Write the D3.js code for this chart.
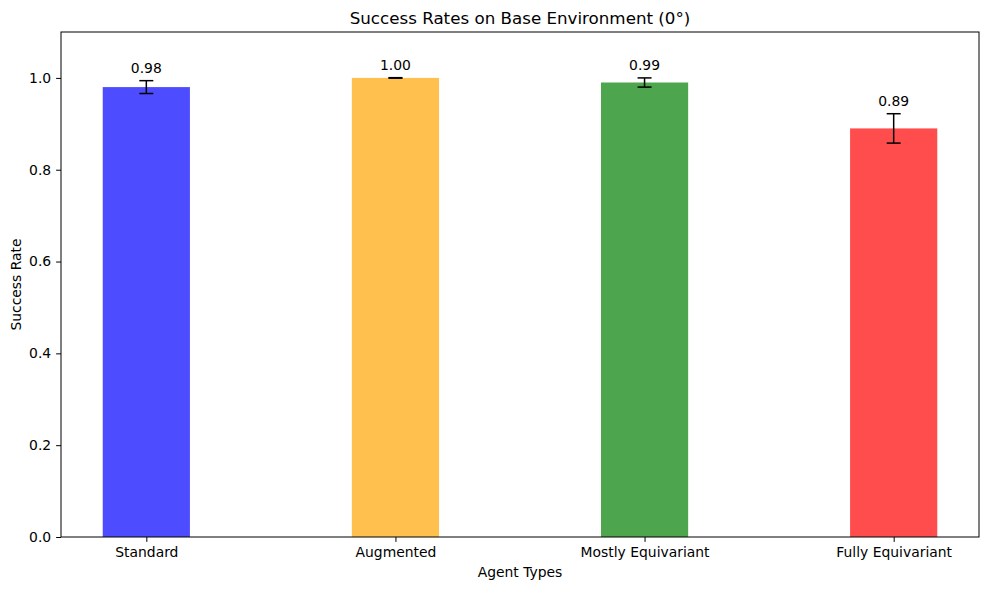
<!DOCTYPE html>
<html>
<head>
<meta charset="utf-8">
<script src="https://cdn.jsdelivr.net/npm/d3@7"></script>
<style>
  body { margin: 0; background: #fff; }
  text { font-family: "DejaVu Sans", sans-serif; fill: #000; }
</style>
</head>
<body>
<div id="chart"></div>
<script>
// data
var agents = ['Standard', 'Augmented', 'Mostly Equivariant', 'Fully Equivariant'];
var rates = [0.98, 1.00, 0.99, 0.89];
var errs = [0.014, 0.0005, 0.01, 0.032];
var colors = ['#4d4dff', '#ffc04d', '#4da64d', '#ff4d4d'];
var yTicks = [0, 0.2, 0.4, 0.6, 0.8, 1.0];

var width = 989, height = 590;
var area = { left: 61, top: 32, right: 979, bottom: 537 };

var svg = d3.select('#chart').append('svg')
  .attr('width', width)
  .attr('height', height);

// matplotlib-like x scale: index -> px, bar width 0.35
var x = d3.scaleLinear()
  .domain([-0.3425, agents.length - 1 + 0.3425])
  .range([area.left, area.right]);
var barW = 0.35;

var y = d3.scaleLinear()
  .domain([0, 1.1])
  .range([area.bottom, area.top]);

// bars
svg.append('g').selectAll('rect')
  .data(rates)
  .enter().append('rect')
    .attr('x', function(d, i) { return x(i - barW / 2); })
    .attr('width', function() { return x(barW) - x(0); })
    .attr('y', function(d) { return y(d); })
    .attr('height', function(d) { return y(0) - y(d); })
    .attr('fill', function(d, i) { return colors[i]; });

// error bars
var eb = svg.append('g').selectAll('g')
  .data(rates)
  .enter().append('g')
    .attr('stroke', '#000')
    .attr('stroke-width', 1.5);

eb.append('line')
  .attr('x1', function(d, i) { return x(i); })
  .attr('x2', function(d, i) { return x(i); })
  .attr('y1', function(d, i) { return y(d - errs[i]); })
  .attr('y2', function(d, i) { return y(d + errs[i]); });
eb.append('line')
  .attr('x1', function(d, i) { return x(i) - 7; })
  .attr('x2', function(d, i) { return x(i) + 7; })
  .attr('y1', function(d, i) { return y(d - errs[i]); })
  .attr('y2', function(d, i) { return y(d - errs[i]); });
eb.append('line')
  .attr('x1', function(d, i) { return x(i) - 7; })
  .attr('x2', function(d, i) { return x(i) + 7; })
  .attr('y1', function(d, i) { return y(d + errs[i]); })
  .attr('y2', function(d, i) { return y(d + errs[i]); });

// value labels
svg.append('g').selectAll('text')
  .data(rates)
  .enter().append('text')
    .attr('x', function(d, i) { return x(i); })
    .attr('y', function(d, i) { return y(d + errs[i] + 0.01) - 3; })
    .attr('text-anchor', 'middle')
    .style('font-size', '13.9px')
    .text(function(d) { return d.toFixed(2); });

// frame
svg.append('rect')
  .attr('x', area.left)
  .attr('y', area.top)
  .attr('width', area.right - area.left)
  .attr('height', area.bottom - area.top)
  .attr('fill', 'none')
  .attr('stroke', '#000')
  .attr('stroke-width', 1);

// x axis
var xAxis = d3.axisBottom(x)
  .tickValues(d3.range(agents.length))
  .tickFormat(function(i) { return agents[i]; })
  .tickSize(4.9)
  .tickPadding(4.9);

var gx = svg.append('g')
  .attr('transform', 'translate(0,' + area.bottom + ')')
  .call(xAxis);
gx.select('.domain').remove();
gx.selectAll('text').style('font-size', '13.9px').attr('fill', '#000');

// y axis
var yAxis = d3.axisLeft(y)
  .tickValues(yTicks)
  .tickFormat(d3.format('.1f'))
  .tickSize(4.9)
  .tickPadding(4.9);

var gy = svg.append('g')
  .attr('transform', 'translate(' + area.left + ',0)')
  .call(yAxis);
gy.select('.domain').remove();
gy.selectAll('text').style('font-size', '13.9px').attr('fill', '#000');

// titles
svg.append('text')
  .attr('x', (area.left + area.right) / 2)
  .attr('y', area.top - 8)
  .attr('text-anchor', 'middle')
  .style('font-size', '16.7px')
  .text('Success Rates on Base Environment (0°)');

svg.append('text')
  .attr('x', (area.left + area.right) / 2)
  .attr('y', 577)
  .attr('text-anchor', 'middle')
  .style('font-size', '13.9px')
  .text('Agent Types');

svg.append('text')
  .attr('transform', 'translate(21,' + (area.top + area.bottom) / 2 + ') rotate(-90)')
  .attr('text-anchor', 'middle')
  .style('font-size', '13.9px')
  .text('Success Rate');
</script>
</body>
</html>
